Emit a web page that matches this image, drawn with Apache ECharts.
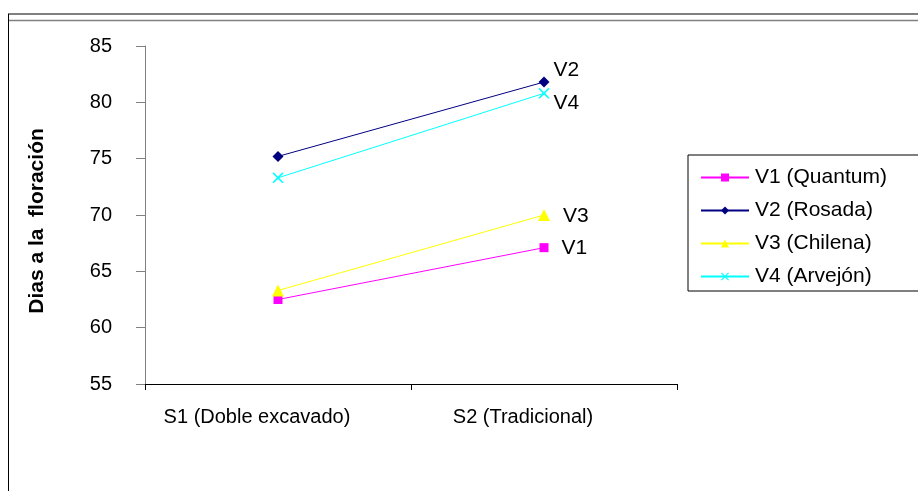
<!DOCTYPE html>
<html>
<head>
<meta charset="utf-8">
<script src="https://cdn.jsdelivr.net/npm/echarts@6/dist/echarts.min.js"></script>
<style>
html,body{margin:0;padding:0;background:#fff;}
#chart{width:918px;height:491px;}
</style>
</head>
<body>
<div id="chart"></div>
<script>
var categories = ['S1 (Doble excavado)', 'S2 (Tradicional)'];
var seriesNames = ['V1 (Quantum)', 'V2 (Rosada)', 'V3 (Chilena)', 'V4 (Arvejón)'];
var shortNames = ['V1', 'V2', 'V3', 'V4'];
var v1 = [62.5, 67.1];
var v2 = [75.2, 81.8];
var v3 = [63.3, 70.0];
var v4 = [73.3, 80.8];
var yTicks = [55, 60, 65, 70, 75, 80, 85];
var yAxisTitle = 'Dias a la  floración';

var colors = ['#FF00FF', '#000080', '#FFFF00', '#00FFFF'];
var symbols = [
  'rect',
  'diamond',
  'triangle',
  'path://M0,1L1,0L5,4L9,0L10,1L6,5L10,9L9,10L5,6L1,10L0,9L4,5Z'
];
var symbolSizes = [9, 11, 12, 11];
var labelOffsets = [[3, 1], [-6, -12], [3, 1], [-6, 10]];
var values = [v1, v2, v3, v4];
var font = 'Liberation Sans, Arial, sans-serif';

var chart = echarts.init(document.getElementById('chart'));
var series = values.map(function (vals, i) {
  return {
    name: seriesNames[i],
    type: 'line',
    data: vals,
    symbol: symbols[i],
    symbolSize: symbolSizes[i],
    showAllSymbol: true,
    animation: false,
    lineStyle: { color: colors[i], width: 1 },
    itemStyle: { color: colors[i] },
    label: {
      show: true,
      position: 'right',
      distance: 10,
      offset: labelOffsets[i],
      fontFamily: font,
      fontSize: 21,
      color: '#000',
      formatter: function (p) {
        return p.dataIndex === vals.length - 1 ? shortNames[i] : '';
      }
    },
    emphasis: { disabled: true }
  };
});

chart.setOption({
  animation: false,
  grid: { left: 145, right: 241, top: 46, bottom: 107, containLabel: false },
  legend: {
    orient: 'vertical',
    left: 688,
    top: 155,
    padding: [12, 40, 4, 12],
    itemWidth: 48,
    itemHeight: 10,
    itemGap: 12,
    borderColor: '#000',
    borderWidth: 1,
    borderRadius: 0,
    data: seriesNames,
    textStyle: { fontFamily: font, fontSize: 21, color: '#000', padding: [0, 0, 0, 1] }
  },
  xAxis: {
    type: 'category',
    data: categories,
    boundaryGap: true,
    axisLine: { lineStyle: { color: '#000', width: 1 } },
    axisTick: { show: true, length: 6, lineStyle: { color: '#000' } },
    axisLabel: { fontFamily: font, fontSize: 20, color: '#000', margin: 23, padding: [0, 42, 0, 0] },
    splitLine: { show: false }
  },
  yAxis: {
    type: 'value',
    min: 55,
    max: 85,
    interval: 5,
    name: yAxisTitle,
    nameLocation: 'middle',
    nameGap: 97,
    nameRotate: 90,
    nameTextStyle: { fontFamily: font, fontSize: 21, fontWeight: 'bold', color: '#000', padding: [0, 12, 0, 0] },
    axisLine: { show: true, lineStyle: { color: '#808080', width: 1 } },
    axisTick: { show: true, length: 9, lineStyle: { color: '#808080' } },
    axisLabel: {
      fontFamily: font, fontSize: 20, color: '#000', margin: 33,
      formatter: function (v) { return yTicks.indexOf(v) >= 0 ? String(v) : ''; }
    },
    splitLine: { show: false }
  },
  graphic: [
    { type: 'line', shape: { x1: 8, y1: 14, x2: 918, y2: 14 }, style: { stroke: '#808080', lineWidth: 2 }, silent: true },
    { type: 'line', shape: { x1: 8, y1: 20.5, x2: 918, y2: 20.5 }, style: { stroke: '#808080', lineWidth: 1.5 }, silent: true },
    { type: 'line', shape: { x1: 8.5, y1: 14, x2: 8.5, y2: 491 }, style: { stroke: '#000', lineWidth: 1 }, silent: true }
  ],
  series: series
});
</script>
</body>
</html>
